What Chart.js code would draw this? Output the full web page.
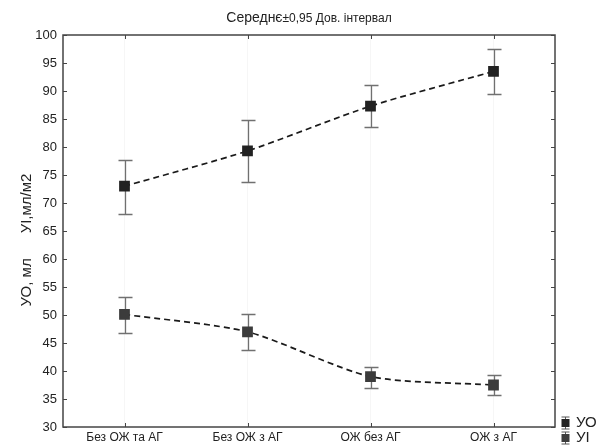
<!DOCTYPE html>
<html>
<head>
<meta charset="utf-8">
<style>
  html, body { margin: 0; padding: 0; background: #fff; }
  #wrap { width: 599px; height: 447px; }
</style>
<script src="https://cdn.jsdelivr.net/npm/chart.js@4/dist/chart.umd.min.js"></script>
</head>
<body>
<div id="wrap"><canvas id="chart"></canvas></div>
<script>
(function () {
  'use strict';

  var categories = ['Без ОЖ та АГ', 'Без ОЖ з АГ', 'ОЖ без АГ', 'ОЖ з АГ'];
  var yTicks = [30, 35, 40, 45, 50, 55, 60, 65, 70, 75, 80, 85, 90, 95, 100];

  var uoMean = [73.0, 79.3, 87.3, 93.5];
  var uoLow = [68.0, 73.7, 83.5, 89.5];
  var uoHigh = [77.7, 84.8, 91.0, 97.5];

  var uiMean = [50.1, 47.0, 39.0, 37.5];
  var uiLow = [46.8, 43.7, 37.0, 35.7];
  var uiHigh = [53.3, 50.2, 40.7, 39.3];

  var font = '"Liberation Sans", Arial, sans-serif';
  var boxColor = '#444';
  var whiskerColor = '#707070';

  // whiskers, frame, inner ticks, titles and the little legend
  var decor = {
    id: 'decor',
    beforeDatasetsDraw: function (chart) {
      var ctx = chart.ctx;
      var x = chart.scales.x, y = chart.scales.y;
      ctx.save();
      ctx.strokeStyle = whiskerColor;
      ctx.lineWidth = 1.3;
      chart.data.datasets.forEach(function (ds) {
        for (var i = 0; i < ds.data.length; i++) {
          var px = Math.round(x.getPixelForValue(i)) + 0.5;
          var top = Math.round(y.getPixelForValue(ds.high[i])) + 0.5;
          var bot = Math.round(y.getPixelForValue(ds.low[i])) + 0.5;
          ctx.beginPath();
          ctx.moveTo(px, top); ctx.lineTo(px, bot);
          ctx.moveTo(px - 7, top); ctx.lineTo(px + 7, top);
          ctx.moveTo(px - 7, bot); ctx.lineTo(px + 7, bot);
          ctx.stroke();
        }
      });
      ctx.restore();
    },
    afterDraw: function (chart) {
      var ctx = chart.ctx;
      var area = chart.chartArea;
      var x = chart.scales.x, y = chart.scales.y;
      ctx.save();

      // frame
      ctx.strokeStyle = boxColor;
      ctx.lineWidth = 1.5;
      ctx.strokeRect(area.left, area.top, area.right - area.left, area.bottom - area.top);

      // inner ticks
      ctx.lineWidth = 1;
      ctx.beginPath();
      yTicks.forEach(function (v) {
        var py = Math.round(y.getPixelForValue(v)) + 0.5;
        ctx.moveTo(area.left, py); ctx.lineTo(area.left + 4, py);
        ctx.moveTo(area.right, py); ctx.lineTo(area.right - 4, py);
      });
      for (var i = 0; i < categories.length; i++) {
        var px = Math.round(x.getPixelForValue(i)) + 0.5;
        ctx.moveTo(px, area.top); ctx.lineTo(px, area.top + 4);
        ctx.moveTo(px, area.bottom); ctx.lineTo(px, area.bottom - 4);
      }
      ctx.stroke();

      // title, two sizes like the original
      ctx.fillStyle = '#222';
      ctx.textBaseline = 'alphabetic';
      var t1 = 'Середнє', t2 = '±0,95 Дов. інтервал';
      ctx.font = '14px ' + font;
      var w1 = ctx.measureText(t1).width;
      ctx.font = '12px ' + font;
      var w2 = ctx.measureText(t2).width;
      var cx = (area.left + area.right) / 2;
      var sx = cx - (w1 + w2) / 2;
      ctx.font = '14px ' + font;
      ctx.textAlign = 'left';
      ctx.fillText(t1, sx, 22);
      ctx.font = '12px ' + font;
      ctx.fillText(t2, sx + w1, 22);

      // y axis title
      ctx.save();
      ctx.translate(27, 240);
      ctx.rotate(-Math.PI / 2);
      ctx.font = '15px ' + font;
      ctx.textAlign = 'center';
      ctx.textBaseline = 'middle';
      ctx.fillText('УО, мл      УІ,мл/м2', 0, 0);
      ctx.restore();

      // legend
      var items = [
        { label: 'УО', color: chart.data.datasets[0].pointBackgroundColor, y: 423 },
        { label: 'УІ', color: chart.data.datasets[1].pointBackgroundColor, y: 438 }
      ];
      items.forEach(function (it) {
        var lx = 565.5;
        ctx.strokeStyle = '#555';
        ctx.lineWidth = 1;
        ctx.beginPath();
        ctx.moveTo(lx, it.y - 6); ctx.lineTo(lx, it.y + 6);
        ctx.moveTo(lx - 4, it.y - 6); ctx.lineTo(lx + 4, it.y - 6);
        ctx.moveTo(lx - 4, it.y + 6); ctx.lineTo(lx + 4, it.y + 6);
        ctx.stroke();
        ctx.fillStyle = it.color;
        ctx.fillRect(lx - 4, it.y - 4, 8, 8);
        ctx.fillStyle = '#222';
        ctx.font = '15px ' + font;
        ctx.textAlign = 'left';
        ctx.textBaseline = 'middle';
        ctx.fillText(it.label, 576, it.y);
      });

      ctx.restore();
    }
  };

  new Chart(document.getElementById('chart'), {
    type: 'line',
    data: {
      labels: categories,
      datasets: [{
        label: 'УО',
        data: uoMean,
        low: uoLow,
        high: uoHigh,
        borderColor: '#1a1a1a',
        borderWidth: 1.7,
        borderDash: [6, 4],
        pointStyle: 'rect',
        pointRadius: 6.4,
        pointBackgroundColor: '#222',
        pointBorderColor: '#222',
        tension: 0.25,
        fill: false
      }, {
        label: 'УІ',
        data: uiMean,
        low: uiLow,
        high: uiHigh,
        borderColor: '#1a1a1a',
        borderWidth: 1.7,
        borderDash: [6, 4],
        pointStyle: 'rect',
        pointRadius: 6.4,
        pointBackgroundColor: '#3c3c3c',
        pointBorderColor: '#3c3c3c',
        tension: 0.25,
        fill: false
      }]
    },
    options: {
      responsive: true,
      maintainAspectRatio: false,
      animation: false,
      layout: { padding: { top: 35, right: 44, left: 0, bottom: 0 } },
      plugins: {
        legend: { display: false },
        tooltip: { enabled: false },
        title: { display: false }
      },
      scales: {
        x: {
          offset: true,
          grid: { color: 'rgba(0,0,0,0.035)', drawTicks: false, offset: false },
          border: { display: false },
          ticks: { color: '#222', font: { family: font, size: 12 }, padding: 3, maxRotation: 0 },
          afterFit: function (s) { s.height = 20; }
        },
        y: {
          min: 30,
          max: 100,
          grid: { display: false, drawTicks: false },
          border: { display: false },
          ticks: { stepSize: 5, color: '#222', font: { family: font, size: 13 }, padding: 6 },
          afterFit: function (s) { s.width = 63; }
        }
      }
    },
    plugins: [decor]
  });
})();
</script>
</body>
</html>
